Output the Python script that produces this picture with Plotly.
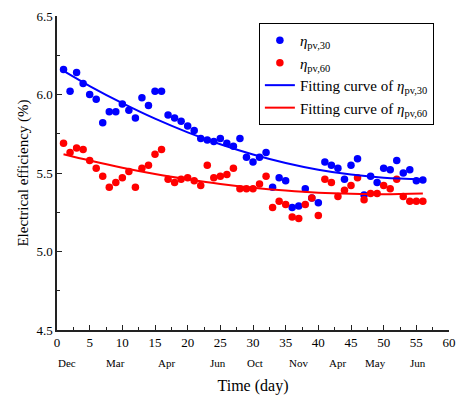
import plotly.graph_objects as go

days = list(range(1, 57))
eta30 = [6.16, 6.02, 6.14, 6.07, 6.00, 5.97, 5.82, 5.89, 5.89, 5.94,
         5.90, 5.85, 5.98, 5.93, 6.02, 6.02, 5.87, 5.85, 5.83, 5.80,
         5.77, 5.72, 5.71, 5.70, 5.72, 5.69, 5.67, 5.72, 5.60, 5.57,
         5.60, 5.63, 5.41, 5.47, 5.45, 5.28, 5.29, 5.40, 5.34, 5.31,
         5.57, 5.55, 5.53, 5.46, 5.55, 5.59, 5.36, 5.48, 5.44, 5.53,
         5.52, 5.58, 5.50, 5.52, 5.45, 5.455]
eta60 = [5.69, 5.63, 5.66, 5.65, 5.58, 5.53, 5.48, 5.41, 5.44, 5.47,
         5.51, 5.41, 5.53, 5.55, 5.62, 5.65, 5.46, 5.44, 5.46, 5.47,
         5.45, 5.42, 5.55, 5.47, 5.48, 5.49, 5.53, 5.40, 5.40, 5.40,
         5.43, 5.48, 5.28, 5.32, 5.30, 5.22, 5.21, 5.30, 5.34, 5.23,
         5.46, 5.44, 5.35, 5.39, 5.42, 5.47, 5.33, 5.37, 5.37, 5.42,
         5.40, 5.46, 5.35, 5.32, 5.32, 5.32]

fit_x = [1, 5, 10, 15, 20, 25, 30, 35, 40, 45, 50, 56]
fit30 = [6.15, 6.054, 5.945, 5.846, 5.759, 5.683, 5.618, 5.564, 5.521, 5.49, 5.47, 5.46]
fit60 = [5.62, 5.580, 5.534, 5.494, 5.460, 5.430, 5.406, 5.388, 5.375, 5.368, 5.365, 5.37]

month_labels = ["Dec", "Mar", "Apr", "Jun", "Oct", "Nov", "Apr", "May", "Jun"]
month_pos = [1.5, 9.0, 16.8, 24.7, 30.3, 36.9, 43.0, 48.7, 55.2]

FONT = "Liberation Serif"

fig = go.Figure()
fig.add_trace(go.Scatter(x=days, y=eta30, mode="markers",
                         marker=dict(color="#0000FF", size=7.5),
                         name="<i>η</i><sub>pv,30</sub>"))
fig.add_trace(go.Scatter(x=days, y=eta60, mode="markers",
                         marker=dict(color="#FF0000", size=7.5),
                         name="<i>η</i><sub>pv,60</sub>"))
fig.add_trace(go.Scatter(x=fit_x, y=fit30, mode="lines",
                         line=dict(color="#0000FF", width=2, shape="spline"),
                         name="Fitting curve of <i>η</i><sub>pv,30</sub>"))
fig.add_trace(go.Scatter(x=fit_x, y=fit60, mode="lines",
                         line=dict(color="#FF0000", width=2, shape="spline"),
                         name="Fitting curve of <i>η</i><sub>pv,60</sub>"))

for lab, pos in zip(month_labels, month_pos):
    fig.add_annotation(x=pos, y=-0.105, xref="x", yref="paper", text=lab,
                       showarrow=False, font=dict(family=FONT, size=11, color="black"),
                       xanchor="center", yanchor="middle")

fig.update_layout(
    width=462, height=398,
    margin=dict(l=57, r=13, t=16, b=68, autoexpand=False),
    paper_bgcolor="white", plot_bgcolor="white",
    font=dict(family=FONT, size=13, color="black"),
    showlegend=True,
    legend=dict(x=0.515, y=0.978, xanchor="left", yanchor="top",
                bordercolor="black", borderwidth=1, bgcolor="white",
                font=dict(family=FONT, size=15, color="black"),
                tracegroupgap=0, itemwidth=30),
    xaxis=dict(range=[0, 60], dtick=5, tick0=0, showgrid=False, zeroline=False,
               automargin=False,
               showline=True, linecolor="#222", linewidth=1.5,
               ticks="inside", ticklen=5, tickcolor="#222", tickwidth=1.2,
               tickfont=dict(family=FONT, size=13),
               minor=dict(ticks="inside", dtick=2.5, ticklen=3, tickcolor="#222", showgrid=False),
               title=dict(text="Time (day)", font=dict(family=FONT, size=16), standoff=30)),
    yaxis=dict(range=[4.5, 6.5], dtick=0.5, tick0=4.5, tickformat=".1f",
               showgrid=False, zeroline=False, automargin=False,
               showline=True, linecolor="#222", linewidth=1.5,
               ticks="inside", ticklen=5, tickcolor="#222", tickwidth=1.2,
               tickfont=dict(family=FONT, size=13),
               minor=dict(ticks="inside", dtick=0.25, ticklen=3, tickcolor="#222", showgrid=False),
               title=dict(text="Electrical efficiency (%)", font=dict(family=FONT, size=15), standoff=4)),
)

fig.write_html("out.html", config={"displayModeBar": False},
               post_script="document.body.style.margin='0';document.body.style.overflow='hidden';")
